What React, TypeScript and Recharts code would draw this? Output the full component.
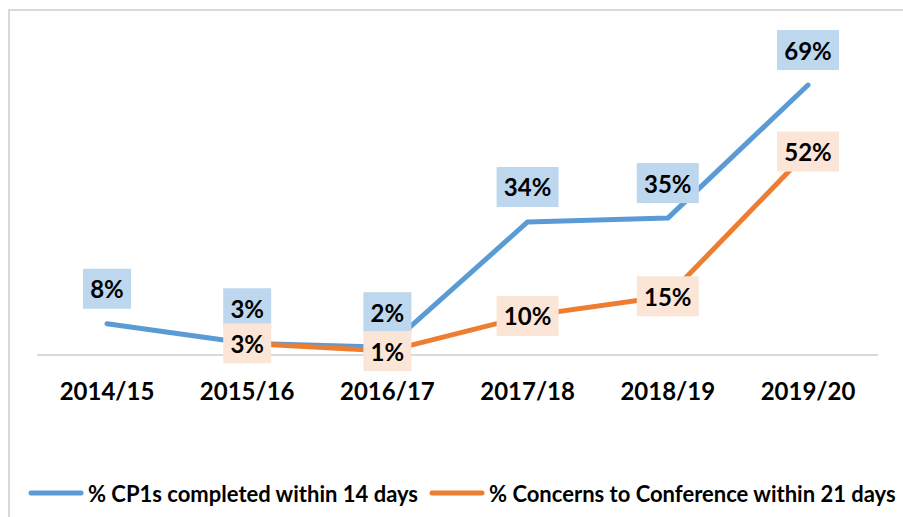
import React from 'react';
import { LineChart, Line, XAxis, YAxis, Legend, LabelList } from 'recharts';

const categories = ['2014/15', '2015/16', '2016/17', '2017/18', '2018/19', '2019/20'];
const cp1Values = [8, 3, 2, 34, 35, 69];
const concernValues: (number | null)[] = [null, 3, 1, 10, 15, 52];
const seriesNames = ['% CP1s completed within 14 days', '% Concerns to Conference within 21 days'];

const BLUE = '#5B9BD5';
const ORANGE = '#ED7D31';
const BLUE_BG = '#BDD7EE';
const ORANGE_BG = '#FBE5D6';
const FONT = 'Lato, "Open Sans", Roboto, sans-serif';

const data = categories.map((c, i) => ({ name: c, cp1: cp1Values[i], concern: concernValues[i] }));

const makeLabel = (bg: string, above: boolean) => (props: any) => {
  const { x, y, value } = props;
  if (value === null || value === undefined) return null;
  const text = `${value}%`;
  const w = 20 + 14 * text.length;
  const h = 40;
  const cy = above ? y - 15 - h / 2 : y;
  return (
    <g>
      <rect x={x - w / 2} y={cy - h / 2} width={w} height={h} fill={bg} />
      <text
        x={x}
        y={cy}
        textAnchor="middle"
        dominantBaseline="central"
        fontFamily={FONT}
        fontWeight={700}
        fontSize={24}
        fill="#000"
      >
        {text}
      </text>
    </g>
  );
};

const LegendContent = () => (
  <div style={{ display: 'flex', alignItems: 'center', height: 30, fontFamily: FONT, fontWeight: 700, fontSize: 22, color: '#000', whiteSpace: 'nowrap' }}>
    <svg width={56} height={8} style={{ marginLeft: 28 }}>
      <line x1={3} y1={4} x2={53} y2={4} stroke={BLUE} strokeWidth={5} strokeLinecap="round" />
    </svg>
    <span style={{ marginLeft: 4 }}>{seriesNames[0]}</span>
    <svg width={56} height={8} style={{ marginLeft: 11 }}>
      <line x1={3} y1={4} x2={53} y2={4} stroke={ORANGE} strokeWidth={5} strokeLinecap="round" />
    </svg>
    <span style={{ marginLeft: 4 }}>{seriesNames[1]}</span>
  </div>
);

export default function App() {
  return (
    <div style={{ position: 'absolute', left: 0, top: 0, width: 903, height: 517, overflow: 'hidden', background: '#fff' }}>
      <div style={{ position: 'absolute', left: 8, top: 9, width: 920, height: 540, border: '2.5px solid #d9d9d9', boxSizing: 'border-box' }} />
      <div style={{ position: 'absolute', left: 0, top: 0 }}>
        <LineChart width={903} height={517} data={data} margin={{ top: 42, right: 25, left: 37, bottom: 72 }}>
          <XAxis
            dataKey="name"
            axisLine={{ stroke: '#d9d9d9', strokeWidth: 2 }}
            tickLine={false}
            tickMargin={22}
            height={60}
            padding={{ left: 70, right: 70 }}
            tick={{ fontFamily: FONT, fontWeight: 700, fontSize: 24, fill: '#000' }}
          />
          <YAxis hide domain={[0, 80]} />
          <Legend
            verticalAlign="bottom"
            content={<LegendContent />}
            wrapperStyle={{ position: 'absolute', top: 478, left: 0, width: 903, height: 30 }}
          />
          <Line
            dataKey="cp1"
            name={seriesNames[0]}
            stroke={BLUE}
            strokeWidth={5}
            strokeLinecap="round"
            strokeLinejoin="round"
            dot={false}
            activeDot={false}
            isAnimationActive={false}
          >
            <LabelList dataKey="cp1" content={makeLabel(BLUE_BG, true)} />
          </Line>
          <Line
            dataKey="concern"
            name={seriesNames[1]}
            stroke={ORANGE}
            strokeWidth={5}
            strokeLinecap="round"
            strokeLinejoin="round"
            dot={false}
            activeDot={false}
            isAnimationActive={false}
          >
            <LabelList dataKey="concern" content={makeLabel(ORANGE_BG, false)} />
          </Line>
        </LineChart>
      </div>
    </div>
  );
}
